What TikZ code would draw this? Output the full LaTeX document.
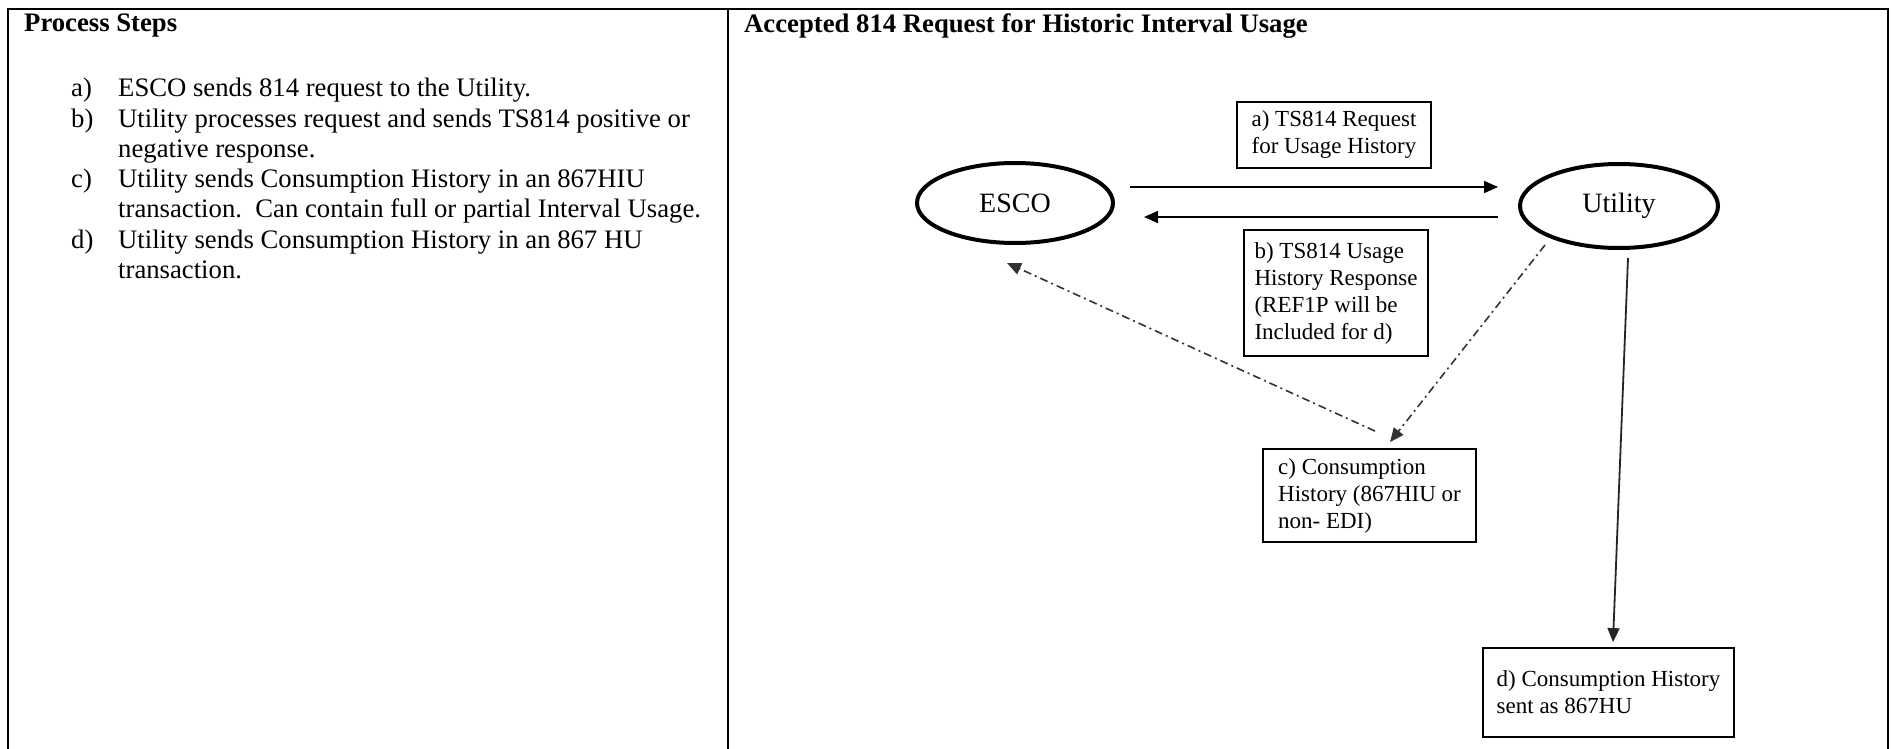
\documentclass[tikz,border=0pt]{standalone}
\usepackage{fontspec}
\setmainfont{Liberation Serif}
\usetikzlibrary{shapes.geometric,arrows.meta}
\begin{document}
\begin{tikzpicture}[x=1pt,y=-1pt,
  frame/.style={line width=2.5pt,line cap=rect},
  actor/.style={ellipse,draw,line width=4pt,inner sep=0pt,font=\fontsize{28}{32}\selectfont},
  msgbox/.style={draw,line width=1.8pt,inner sep=0pt,align=left,font=\fontsize{23}{27}\selectfont},
  head/.style={anchor=west,inner sep=0pt,font=\fontsize{26.7}{30.3}\selectfont\bfseries},
  body/.style={anchor=north west,inner sep=0pt,align=left,font=\fontsize{26.7}{30.3}\selectfont},
  flow/.style={line width=1.8pt,-{Triangle[length=14pt,width=12pt]}},
  dflow/.style={line width=1.6pt,draw=black!80,dash pattern=on 8pt off 4pt on 2pt off 4pt,-{Triangle[length=14pt,width=12pt]}}
]
\useasboundingbox (0,0) rectangle (1891,749);
% table frame
\coordinate (tl) at (8,9);
\coordinate (tr) at (1888,9);
\coordinate (bl) at (8,749);
\coordinate (br) at (1888,749);
\coordinate (mt) at (728,9);
\coordinate (mb) at (728,749);
\draw[frame] (bl) -- (tl) -- (tr) -- (br);
\draw[frame] (mt) -- (mb);
% headings
\node[head] (h1) at (24,26) {Process Steps};
\node[head] (h2) at (744,26) {Accepted 814 Request for Historic Interval Usage};
% steps
\node[body] (steps) at (71,78) {%
\makebox[47pt][l]{a)}ESCO sends 814 request to the Utility.\\
\makebox[47pt][l]{b)}Utility processes request and sends TS814 positive or\\
\hspace*{47pt}negative response.\\
\makebox[47pt][l]{c)}Utility sends Consumption History in an 867HIU\\
\hspace*{47pt}transaction.\ \ Can contain full or partial Interval Usage.\\
\makebox[47pt][l]{d)}Utility sends Consumption History in an 867 HU\\
\hspace*{47pt}transaction.};
% diagram
\node[actor,minimum width=196pt,minimum height=80pt] (esco) at (1015,203) {ESCO};
\node[actor,minimum width=198pt,minimum height=84pt] (util) at (1619,206) {Utility};
\node[msgbox,minimum width=194pt,minimum height=66pt] (ba) at (1334,135) {a) TS814 Request\\for Usage History};
\node[msgbox,minimum width=184pt,minimum height=126pt] (bb) at (1336,293) {b) TS814 Usage\\History Response\\(REF1P will be\\Included for d)};
\node[msgbox,minimum width=213pt,minimum height=93pt] (bc) at (1369.5,495.5) {c) Consumption\\History (867HIU or\\non- EDI)};
\node[msgbox,minimum width=251pt,minimum height=89pt] (bd) at (1608.5,692.5) {d) Consumption History\\sent as 867HU};
% connectors
\draw[flow] ([shift={(15,-16)}]esco.east) -- ([shift={(-20,-19)}]util.west);
\draw[flow] ([shift={(-20,11)}]util.west) -- ([shift={(29,14)}]esco.east);
\draw[dflow] ([shift={(-74,39)}]util.center) -- ([shift={(20.5,-6)}]bc.north);
\draw[dflow] ([shift={(5.5,-17)}]bc.north) -- ([shift={(-8,18)}]esco.south);
\draw[flow,draw=black!85] ([shift={(9,8)}]util.south) -- ([shift={(4.5,-5)}]bd.north);
\end{tikzpicture}
\end{document}
